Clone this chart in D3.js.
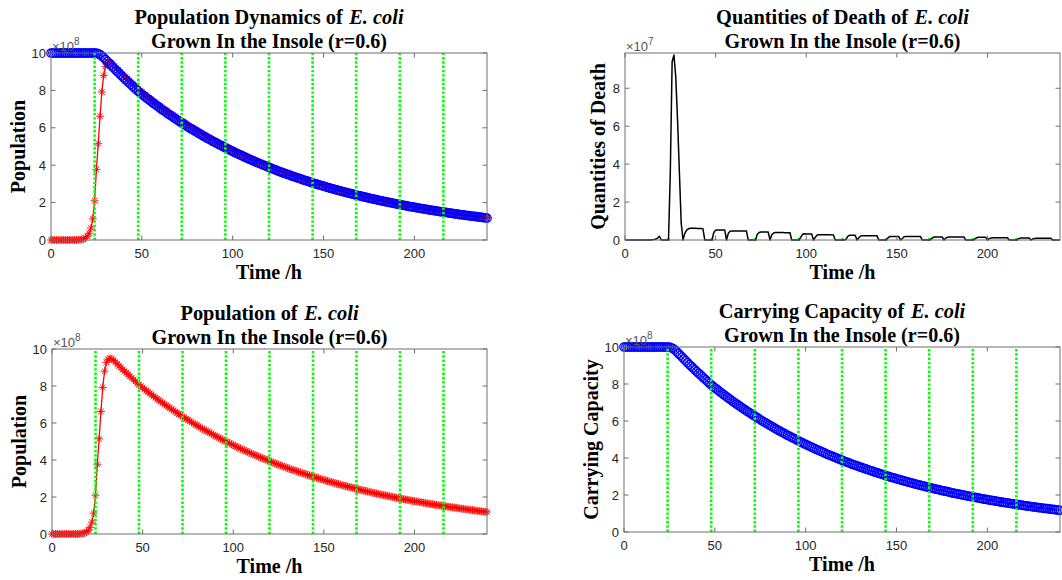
<!DOCTYPE html>
<html><head><meta charset="utf-8">
<script src="https://cdn.jsdelivr.net/npm/d3@7"></script>
<style>body{margin:0;background:#fff}svg{display:block}text{white-space:pre}</style>
</head><body>
<svg id="c" width="1062" height="580"></svg>
<script>
// time grid: one sample per hour, 0..240 h
const hours = d3.range(0, 241);
const dayMarks = [24, 48, 72, 96, 120, 144, 168, 192, 216];
const xTicks = [0, 50, 100, 150, 200];
const yTicksPop = [0, 2, 4, 6, 8, 10];
const yTicksDeath = [0, 2, 4, 6, 8];

// carrying capacity (x1e8)
const carrying = [
10,10,10,10,10,10,10,10,10,10,
10,10,10,10,10,10,10,10,10,10,
10,10,10,10,10,9.99,9.96,9.91,9.84,9.75,
9.65,9.55,9.45,9.35,9.25,9.15,9.05,8.96,8.86,8.77,
8.67,8.58,8.49,8.40,8.31,8.22,8.13,8.04,7.95,7.87,
7.79,7.72,7.64,7.56,7.49,7.42,7.34,7.27,7.20,7.13,
7.05,6.98,6.92,6.85,6.78,6.71,6.65,6.58,6.51,6.45,
6.39,6.32,6.26,6.20,6.14,6.07,6.01,5.95,5.90,5.84,
5.78,5.72,5.67,5.61,5.55,5.50,5.44,5.39,5.34,5.28,
5.23,5.18,5.13,5.08,5.03,4.98,4.93,4.88,4.83,4.78,
4.74,4.69,4.64,4.60,4.55,4.51,4.46,4.42,4.37,4.33,
4.29,4.24,4.20,4.16,4.12,4.08,4.04,4.00,3.96,3.92,
3.88,3.84,3.80,3.77,3.73,3.69,3.65,3.62,3.58,3.55,
3.51,3.48,3.44,3.41,3.38,3.34,3.31,3.28,3.24,3.21,
3.18,3.15,3.12,3.09,3.05,3.02,2.99,2.96,2.93,2.91,
2.88,2.85,2.82,2.79,2.76,2.74,2.71,2.68,2.66,2.63,
2.60,2.58,2.55,2.53,2.50,2.48,2.45,2.43,2.40,2.38,
2.36,2.33,2.31,2.29,2.27,2.24,2.22,2.20,2.18,2.16,
2.13,2.11,2.09,2.07,2.05,2.03,2.01,1.99,1.97,1.95,
1.93,1.91,1.89,1.87,1.86,1.84,1.82,1.80,1.78,1.77,
1.75,1.73,1.71,1.70,1.68,1.66,1.65,1.63,1.61,1.60,
1.58,1.57,1.55,1.54,1.52,1.51,1.49,1.48,1.46,1.45,
1.43,1.42,1.40,1.39,1.38,1.36,1.35,1.34,1.32,1.31,
1.30,1.28,1.27,1.26,1.25,1.23,1.22,1.21,1.20,1.19,
1.17];

// population (x1e8)
const population = [
0,0,0,0,0,0,0,0,0,0,
0,0,0,0,0,0.01,0.02,0.03,0.06,0.11,
0.2,0.36,0.64,1.13,2.10,3.77,5.15,6.62,7.92,8.80,
9.28,9.45,9.50,9.47,9.39,9.29,9.19,9.09,8.99,8.90,
8.80,8.71,8.62,8.53,8.43,8.34,8.25,8.16,8.07,7.99,
7.91,7.83,7.75,7.68,7.60,7.53,7.45,7.38,7.30,7.23,
7.16,7.09,7.02,6.95,6.88,6.81,6.74,6.68,6.61,6.55,
6.48,6.42,6.35,6.29,6.23,6.17,6.11,6.04,5.98,5.92,
5.87,5.81,5.75,5.69,5.64,5.58,5.53,5.47,5.42,5.36,
5.31,5.26,5.21,5.15,5.10,5.05,5.00,4.95,4.90,4.85,
4.81,4.76,4.71,4.66,4.62,4.57,4.53,4.48,4.44,4.39,
4.35,4.31,4.27,4.22,4.18,4.14,4.10,4.06,4.02,3.98,
3.94,3.90,3.86,3.82,3.78,3.75,3.71,3.67,3.64,3.60,
3.56,3.53,3.49,3.46,3.43,3.39,3.36,3.33,3.29,3.26,
3.23,3.20,3.16,3.13,3.10,3.07,3.04,3.01,2.98,2.95,
2.92,2.89,2.86,2.83,2.81,2.78,2.75,2.72,2.70,2.67,
2.64,2.62,2.59,2.56,2.54,2.52,2.49,2.47,2.44,2.42,
2.39,2.37,2.35,2.32,2.30,2.28,2.25,2.23,2.21,2.19,
2.17,2.14,2.12,2.10,2.08,2.06,2.04,2.02,2.00,1.98,
1.96,1.94,1.92,1.90,1.88,1.86,1.85,1.83,1.81,1.79,
1.77,1.76,1.74,1.72,1.71,1.69,1.67,1.65,1.64,1.62,
1.61,1.59,1.57,1.56,1.54,1.53,1.51,1.50,1.48,1.47,
1.45,1.44,1.43,1.41,1.40,1.38,1.37,1.36,1.34,1.33,
1.32,1.30,1.29,1.28,1.26,1.25,1.24,1.23,1.21,1.20,
1.19];

// quantities of death (x1e7)
const deaths = [
0,0,0,0,0,0,0,0,0,0,
0,0,0,0,0,0.01,0.02,0.05,0.1,0.2,
0,0,0,0,0,3.6,9.4,9.75,8.6,6.3,
3.6,0.9,0,0.35,0.52,0.59,0.62,0.62,0.62,0.62,
0.61,0.61,0.61,0.6,0,0,0,0,0,0.4,
0.52,0.53,0.53,0.53,0.53,0.53,0,0.35,0.46,0.48,
0.48,0.48,0.48,0.47,0.47,0.47,0.47,0.47,0,0,
0,0,0,0.3,0.4,0.42,0.42,0.42,0.42,0.42,
0,0.28,0.37,0.39,0.39,0.39,0.39,0.39,0.38,0.38,
0.38,0.38,0,0,0,0,0,0.15,0.3,0.33,
0.32,0.32,0.32,0.32,0,0.15,0.26,0.28,0.28,0.28,
0.28,0.28,0.28,0.28,0.27,0.27,0,0,0,0,
0,0,0.05,0.2,0.25,0.25,0.25,0.25,0,0.12,
0.21,0.23,0.23,0.23,0.23,0.23,0.23,0.23,0.23,0.23,
0,0,0,0,0,0.1,0.18,0.19,0.19,0.19,
0.19,0.19,0,0.08,0.17,0.19,0.19,0.19,0.19,0.19,
0.19,0.19,0.19,0.19,0,0,0,0,0,0.06,
0.14,0.16,0.16,0.16,0.16,0.16,0,0.1,0.15,0.16,
0.16,0.16,0.16,0.16,0.16,0.16,0.16,0.16,0,0,
0,0,0,0.05,0.12,0.14,0.14,0.14,0.14,0.14,
0,0.07,0.11,0.12,0.12,0.12,0.12,0.12,0.12,0.12,
0.12,0.12,0,0,0,0,0,0.06,0.1,0.11,
0.11,0.11,0.11,0.11,0,0.05,0.08,0.09,0.09,0.09,
0.09,0.09,0.09,0.09,0.09,0.09,0,0,0,0,
0];

const svg = d3.select('#c');
const SERIF = '"Liberation Serif","Times New Roman",serif';
const SANS = '"Liberation Sans",Arial,Helvetica,sans-serif';
const AX = '#262626';
const BOX = '#6e6e6e';

const panels = [
  {x0:51, x1:487, y0:53, y1:240, yMax:10, yTicks:yTicksPop, exp:'8',
   t1:'Population Dynamics of ', ylab:'Population', ylabX:25, series:['red','blue'], green:'full'},
  {x0:625, x1:1060, y0:53, y1:240, yMax:9.86, yTicks:yTicksDeath, exp:'7',
   t1:'Quantities of Death of ', ylab:'Quantities of Death', ylabX:605, series:['death'], green:'base'},
  {x0:52, x1:487, y0:349, y1:534, yMax:10, yTicks:yTicksPop, exp:'8',
   t1:'Population of ', ylab:'Population', ylabX:26, series:['red'], green:'full'},
  {x0:624, x1:1060, y0:347, y1:532, yMax:10, yTicks:yTicksPop, exp:'8',
   t1:'Carrying Capacity of ', ylab:'Carrying Capacity', ylabX:598, series:['blue'], green:'full'}
];

function starPath(r){
  const a = r*0.7071;
  return `M${-r},0H${r}M0,${-r}V${r}M${-a},${-a}L${a},${a}M${-a},${a}L${a},${-a}`;
}

const titleLines1 = [], titleLines2 = [];

panels.forEach(p => {
  const x = d3.scaleLinear().domain([0, 240]).range([p.x0, p.x1]);
  const y = d3.scaleLinear().domain([0, p.yMax]).range([p.y1, p.y0]);
  const g = svg.append('g');

  p.series.forEach(s => {
    if (s === 'blue') {
      const pts = hours.map((h,i)=>[h, carrying[i]]);
      g.append('path').attr('d', d3.line().x(d=>x(d[0])).y(d=>y(d[1]))(pts))
        .attr('fill','none').attr('stroke','#0000ff').attr('stroke-width',1);
      g.append('g').selectAll('circle').data(pts).join('circle')
        .attr('cx', d=>x(d[0])).attr('cy', d=>y(d[1])).attr('r', 4.2)
        .attr('fill','none').attr('stroke','#0000ff').attr('stroke-width',1.25);
    }
    if (s === 'red') {
      const pts = hours.map((h,i)=>[h, population[i]]);
      g.append('path').attr('d', d3.line().x(d=>x(d[0])).y(d=>y(d[1]))(pts))
        .attr('fill','none').attr('stroke','#ff0000').attr('stroke-width',1.3);
      g.append('g').selectAll('path').data(pts).join('path')
        .attr('transform', d=>`translate(${x(d[0])},${y(d[1])})`)
        .attr('d', starPath(4)).attr('fill','none')
        .attr('stroke','#ff0000').attr('stroke-width',0.9);
    }
    if (s === 'death') {
      g.append('g').selectAll('line').data(dayMarks).join('line')
        .attr('x1', d=>x(d)).attr('x2', d=>x(d))
        .attr('y1', y(0)+1).attr('y2', y(0)-2)
        .attr('stroke','#00ff00').attr('stroke-width',2.5);
      const pts = hours.map((h,i)=>[h, deaths[i]]);
      g.append('path').attr('d', d3.line().x(d=>x(d[0])).y(d=>y(d[1]))(pts))
        .attr('fill','none').attr('stroke','#000').attr('stroke-width',1.5)
        .attr('stroke-linejoin','round');
    }
  });

  if (p.green === 'full') {
    g.append('g').selectAll('line').data(dayMarks).join('line')
      .attr('x1', d=>x(d)).attr('x2', d=>x(d))
      .attr('y1', y(0)).attr('y2', y(p.yMax))
      .attr('stroke','#00ff00').attr('stroke-width',2.6)
      .attr('stroke-dasharray','2.4,1.9');
  }

  g.append('rect').attr('x', p.x0).attr('y', p.y0)
    .attr('width', p.x1-p.x0).attr('height', p.y1-p.y0)
    .attr('fill','none').attr('stroke',BOX).attr('stroke-width',1);

  const tl = 4.5;
  xTicks.forEach(t => {
    g.append('line').attr('x1', x(t)).attr('x2', x(t)).attr('y1', p.y1).attr('y2', p.y1-tl).attr('stroke',BOX);
    g.append('line').attr('x1', x(t)).attr('x2', x(t)).attr('y1', p.y0).attr('y2', p.y0+tl).attr('stroke',BOX);
    g.append('text').attr('x', x(t)).attr('y', p.y1+18).attr('text-anchor','middle')
      .attr('font-family', SANS).attr('font-size', 13).attr('fill', AX).text(t);
  });
  p.yTicks.forEach(t => {
    g.append('line').attr('x1', p.x0).attr('x2', p.x0+tl).attr('y1', y(t)).attr('y2', y(t)).attr('stroke',BOX);
    g.append('line').attr('x1', p.x1).attr('x2', p.x1-tl).attr('y1', y(t)).attr('y2', y(t)).attr('stroke',BOX);
    g.append('text').attr('x', p.x0-5).attr('y', y(t)+4.6).attr('text-anchor','end')
      .attr('font-family', SANS).attr('font-size', 13).attr('fill', AX).text(t);
  });

  const ex = g.append('text').attr('x', p.x0+1).attr('y', p.y0-2)
    .attr('font-family', SANS).attr('font-size', 13).attr('fill', '#555');
  ex.append('tspan').text('×10');
  ex.append('tspan').attr('dy', -6).attr('font-size', 10).text(p.exp);

  const cx = (p.x0+p.x1)/2;
  const t1 = g.append('text').attr('x', cx).attr('y', p.y0-29).attr('text-anchor','middle')
    .attr('font-family', SERIF).attr('font-size', 20).attr('font-weight','bold').attr('fill','#000');
  t1.append('tspan').text(p.t1);
  t1.append('tspan').attr('font-style','italic').attr('dx', 1.5).text('E. coli');
  const t2 = g.append('text').attr('x', cx).attr('y', p.y0-5.5).attr('text-anchor','middle')
    .attr('font-family', SERIF).attr('font-size', 20).attr('font-weight','bold').attr('fill','#000')
    .text('Grown In the Insole (r=0.6)');
  titleLines1.push(t1); titleLines2.push(t2);

  g.append('text').attr('x', cx).attr('y', p.y1+39).attr('text-anchor','middle')
    .attr('font-family', SERIF).attr('font-size', 20).attr('font-weight','bold').attr('fill','#000')
    .text('Time /h');
  g.append('text').attr('transform', `translate(${p.ylabX},${(p.y0+p.y1)/2}) rotate(-90)`)
    .attr('text-anchor','middle')
    .attr('font-family', SERIF).attr('font-size', 20).attr('font-weight','bold').attr('fill','#000')
    .text(p.ylab);
});

// fit title font sizes to the widths measured in the reference (first panel)
function fit(list, target){
  const w = list[0].node().getBBox().width;
  if (w > 0) {
    const fs = Math.max(17, Math.min(23, 20 * target / w));
    list.forEach(t => t.attr('font-size', fs));
  }
}
fit(titleLines1, 270);
fit(titleLines2, 236);
</script>
</body></html>
